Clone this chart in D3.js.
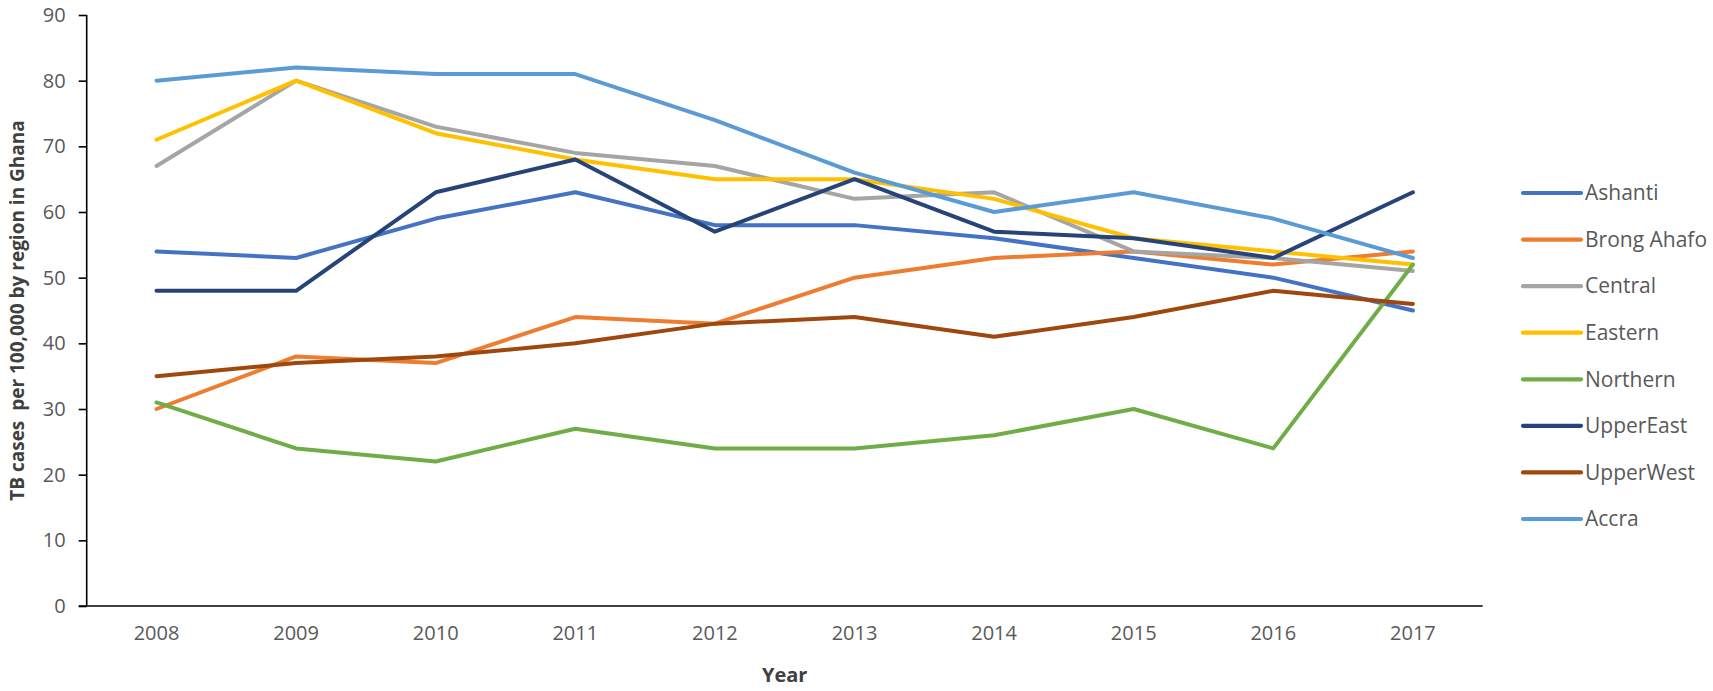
<!DOCTYPE html>
<html>
<head>
<meta charset="utf-8">
<script src="https://cdn.jsdelivr.net/npm/d3@7/dist/d3.min.js"></script>
<style>
  html, body { margin: 0; padding: 0; background: #ffffff; }
  svg { display: block; }
</style>
</head>
<body>
<svg id="chart" width="1713" height="691"></svg>
<script>
// ---- data ----
const years = ["2008","2009","2010","2011","2012","2013","2014","2015","2016","2017"];
const yTicks = [0,10,20,30,40,50,60,70,80,90];
const seriesNames = ["Ashanti","Brong Ahafo","Central","Eastern","Northern","UpperEast","UpperWest","Accra"];
const ashanti    = [54, 53, 59, 63, 58, 58, 56, 53, 50, 45];
const brongAhafo = [30, 38, 37, 44, 43, 50, 53, 54, 52, 54];
const central    = [67, 80, 73, 69, 67, 62, 63, 54, 53, 51];
const eastern    = [71, 80, 72, 68, 65, 65, 62, 56, 54, 52];
const northern   = [31, 24, 22, 27, 24, 24, 26, 30, 24, 52];
const upperEast  = [48, 48, 63, 68, 57, 65, 57, 56, 53, 63];
const upperWest  = [35, 37, 38, 40, 43, 44, 41, 44, 48, 46];
const accra      = [80, 82, 81, 81, 74, 66, 60, 63, 59, 53];
const seriesValues = [ashanti, brongAhafo, central, eastern, northern, upperEast, upperWest, accra];
const colors = ["#4472C4","#ED7D31","#A5A5A5","#FFC000","#70AD47","#264478","#9E480E","#5B9BD5"];

(function () {
// ---- layout ----
const svg = d3.select("#chart");
const pLeft = 86.7, pRight = 1482.7, pTop = 15, pBottom = 606;

const x = d3.scaleBand().domain(years).range([pLeft, pRight]).paddingInner(0).paddingOuter(0);
const xc = d => x(d) + x.bandwidth() / 2;
const y = d3.scaleLinear().domain([0, 90]).range([pBottom, pTop]);

const font = "'Open Sans', 'Liberation Sans', sans-serif";

// y axis
const yAxis = svg.append("g")
  .attr("transform", `translate(${pLeft},0)`)
  .call(d3.axisLeft(y).tickValues(yTicks).tickSize(8).tickPadding(13));
yAxis.select(".domain").attr("stroke", "#000").attr("stroke-width", 1.6).attr("d", `M0,${pBottom}V${pTop}`);
yAxis.selectAll(".tick line").attr("stroke", "#000").attr("stroke-width", 1.6);
yAxis.selectAll(".tick text")
  .attr("font-family", font).attr("font-size", 20).attr("fill", "#595959");

// x axis
const xAxis = svg.append("g")
  .attr("transform", `translate(0,${pBottom})`)
  .call(d3.axisBottom(x).tickSize(0).tickPadding(20));
xAxis.select(".domain").attr("stroke", "#000").attr("stroke-width", 1.6).attr("d", `M${pLeft - 8},0H${pRight}`);
xAxis.selectAll(".tick text")
  .attr("font-family", font).attr("font-size", 20).attr("fill", "#595959");

// axis titles
svg.append("text")
  .attr("transform", `translate(24,${(pTop + pBottom) / 2}) rotate(-90)`)
  .attr("text-anchor", "middle")
  .style("white-space", "pre")
  .attr("font-family", font).attr("font-weight", "bold").attr("font-size", 19)
  .attr("fill", "#404040")
  .text("TB cases  per 100,000 by region in Ghana");

svg.append("text")
  .attr("x", (pLeft + pRight) / 2).attr("y", 682)
  .attr("text-anchor", "middle")
  .attr("font-family", font).attr("font-weight", "bold").attr("font-size", 20)
  .attr("fill", "#404040")
  .text("Year");

// lines
const line = d3.line().x((d, i) => xc(years[i])).y(d => y(d));
const g = svg.append("g");
seriesValues.forEach((vals, i) => {
  g.append("path")
    .datum(vals)
    .attr("d", line)
    .attr("fill", "none")
    .attr("stroke", colors[i])
    .attr("stroke-width", 4)
    .attr("stroke-linejoin", "round")
    .attr("stroke-linecap", "round");
});

// legend
const legY = d3.scalePoint().domain(seriesNames).range([193, 519]);
const leg = svg.append("g");
seriesNames.forEach((name, i) => {
  const yy = legY(name);
  leg.append("line")
    .attr("x1", 1523).attr("x2", 1581).attr("y1", yy).attr("y2", yy)
    .attr("stroke", colors[i]).attr("stroke-width", 4.2).attr("stroke-linecap", "round");
  leg.append("text")
    .attr("x", 1585).attr("y", yy).attr("dy", "0.35em")
    .attr("font-family", font).attr("font-size", 21).attr("fill", "#595959")
    .text(name);
});
})();
</script>
</body>
</html>
